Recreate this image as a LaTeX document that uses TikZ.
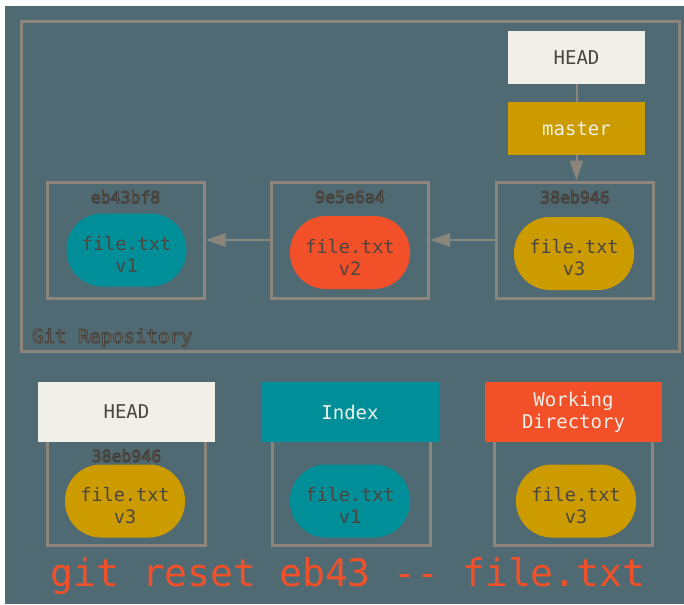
\documentclass[tikz,border=0pt]{standalone}
\usepackage{fontspec}
\setmonofont{DejaVu Sans Mono}
\usepackage{xcolor}
\usepackage{tikz}
\usetikzlibrary{arrows.meta,positioning}
\definecolor{slate}{RGB}{79,106,114}
\definecolor{frame}{RGB}{139,133,123}
\definecolor{paper}{RGB}{240,239,232}
\definecolor{gold}{RGB}{204,155,0}
\definecolor{petrol}{RGB}{0,142,153}
\definecolor{flame}{RGB}{242,80,40}
\definecolor{ink}{RGB}{76,70,64}
\definecolor{hashgray}{RGB}{114,106,96}
\definecolor{repogray}{RGB}{128,120,109}
% text with a dark rim, as the labels on the frames
\newcommand{\etched}[1]{\special{pdf:literal direct 0.27 0.25 0.23 RG 0.9 w 2 Tr}#1\special{pdf:literal direct 0 Tr}}

\begin{document}
\begin{tikzpicture}[x=1pt,y=-1pt,
  commit/.style={draw=frame, line width=3pt, minimum width=157pt, minimum height=116pt, inner sep=0},
  blob/.style={rounded corners=36pt, minimum width=120pt, minimum height=73pt, inner sep=0},
  blobtext/.style={align=center, inner sep=0, yshift=-4.5pt, text=ink, font=\ttfamily\fontsize{18.5}{22}\selectfont},
  ref/.style={minimum width=137pt, minimum height=53pt, inner sep=0, font=\ttfamily\fontsize{19}{22}\selectfont},
  area/.style={minimum width=177pt, minimum height=60pt, inner sep=0, align=center, font=\ttfamily\fontsize{19}{22}\selectfont},
  hash/.style={text=hashgray, inner sep=0, font=\ttfamily\fontsize{16.5}{18}\selectfont},
  link/.style={draw=frame, line width=2pt},
  ptr/.style={link, -{Triangle[length=20pt,width=13pt]}}]
  \useasboundingbox (0,0) rectangle (684,604);
  \fill[slate] (5,6) rectangle (684,604);

  % repository
  \draw[frame, line width=3pt] (21,22) rectangle (679,351);
  \node[anchor=base west, inner sep=0, text=repogray, font=\ttfamily\fontsize{19}{22}\selectfont] (repo) at (32,343) {\etched{Git Repository}};
  \node[ref, fill=paper, text=ink] (head) at (576.5,57.5) {HEAD};
  \node[ref, fill=gold, text=paper] (master) at (576.5,128.5) {master};

  \node[commit] (c1) at (125.5,240) {};
  \node[commit] (c2) at (350,240) {};
  \node[commit] (c3) at (575,240) {};
  \node[hash, below=10pt of c1.north] (h1) {\etched{eb43bf8}};
  \node[hash, below=10pt of c2.north] (h2) {\etched{9e5e6a4}};
  \node[hash, below=10pt of c3.north] (h3) {\etched{38eb946}};
  \node[blob, fill=petrol, label={[blobtext]center:{file.txt\\v1}}] (b1) at (126.5,250) {};
  \node[blob, fill=flame, label={[blobtext]center:{file.txt\\v2}}] (b2) at (350,252.5) {};
  \node[blob, fill=gold, label={[blobtext]center:{file.txt\\v3}}] (b3) at (574,253.5) {};

  \draw[ptr] (c2.west) -- (c1.east);
  \draw[ptr] (c3.west) -- (c2.east);
  \draw[link] (head.south) -- (master.north);
  \draw[ptr] (master.south) -- (master.south |- c3.north);

  % the three trees
  \node[commit, minimum width=158pt, minimum height=107pt] (s1) at (126,491.5) {};
  \node[commit, minimum width=158pt, minimum height=107pt] (s2) at (351.5,491.5) {};
  \node[commit, minimum width=158pt, minimum height=107pt] (s3) at (573.5,491.5) {};
  \node[area, fill=paper, text=ink] (hb) at (126.5,412) {HEAD};
  \node[area, fill=petrol, text=paper] (ib) at (350,412) {Index};
  \node[area, fill=flame, text=paper] (wb) at (573.5,412) {Working\\Directory};
  \node[hash, below=7pt of hb.south] (h4) {\etched{38eb946}};
  \node[blob, fill=gold, label={[blobtext]center:{file.txt\\v3}}] (t1) at (125,501) {};
  \node[blob, fill=petrol, label={[blobtext]center:{file.txt\\v1}}] (t2) at (350,501) {};
  \node[blob, fill=gold, label={[blobtext]center:{file.txt\\v3}}] (t3) at (576,501) {};

  \node[anchor=base, inner sep=0, text=flame, font=\ttfamily\fontsize{38}{40}\selectfont] (cmd) at (348,586) {git reset eb43 -{}- file.txt};
\end{tikzpicture}
\end{document}
